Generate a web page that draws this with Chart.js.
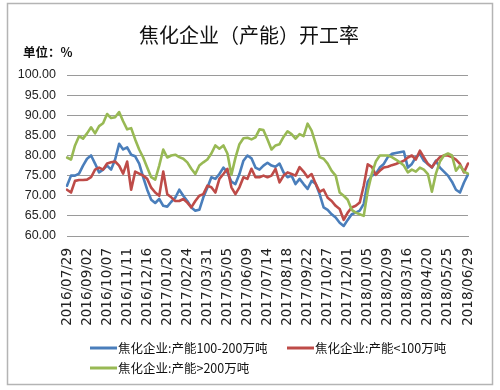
<!DOCTYPE html>
<html>
<head>
<meta charset="utf-8">
<script src="https://cdn.jsdelivr.net/npm/chart.js@4"></script>
<style>
  html, body { margin: 0; padding: 0; background: #fff; }
  #c { display: block; }
</style>
</head>
<body>
<canvas id="c" width="500" height="390"></canvas>
<script>
const titleText = '焦化企业（产能）开工率';
const unitText = '单位：%';

const categories = [
  '2016/07/29','2016/08/05','2016/08/12','2016/08/19','2016/08/26','2016/09/02','2016/09/09','2016/09/16','2016/09/23','2016/09/30',
  '2016/10/07','2016/10/14','2016/10/21','2016/10/28','2016/11/04','2016/11/11','2016/11/18','2016/11/25','2016/12/02','2016/12/09',
  '2016/12/16','2016/12/23','2016/12/30','2017/01/06','2017/01/13','2017/01/20','2017/01/27','2017/02/03','2017/02/10','2017/02/17',
  '2017/02/24','2017/03/03','2017/03/10','2017/03/17','2017/03/24','2017/03/31','2017/04/07','2017/04/14','2017/04/21','2017/04/28',
  '2017/05/05','2017/05/12','2017/05/19','2017/05/26','2017/06/02','2017/06/09','2017/06/16','2017/06/23','2017/06/30','2017/07/07',
  '2017/07/14','2017/07/21','2017/07/28','2017/08/04','2017/08/11','2017/08/18','2017/08/25','2017/09/01','2017/09/08','2017/09/15',
  '2017/09/22','2017/09/29','2017/10/06','2017/10/13','2017/10/20','2017/10/27','2017/11/03','2017/11/10','2017/11/17','2017/11/24',
  '2017/12/01','2017/12/08','2017/12/15','2017/12/22','2017/12/29','2018/01/05','2018/01/12','2018/01/19','2018/01/26','2018/02/02',
  '2018/02/09','2018/02/16','2018/02/23','2018/03/02','2018/03/09','2018/03/16','2018/03/23','2018/03/30','2018/04/06','2018/04/13',
  '2018/04/20','2018/04/27','2018/05/04','2018/05/11','2018/05/18','2018/05/25','2018/06/01','2018/06/08','2018/06/15','2018/06/22',
  '2018/06/29'
];

const tickLabels = [
  '2016/07/29','2016/09/02','2016/10/07','2016/11/11','2016/12/16','2017/01/20','2017/02/24',
  '2017/03/31','2017/05/05','2017/06/09','2017/07/14','2017/08/18','2017/09/22','2017/10/27',
  '2017/12/01','2018/01/05','2018/02/09','2018/03/16','2018/04/20','2018/05/25','2018/06/29'
];

const yTicks = [60, 65, 70, 75, 80, 85, 90, 95, 100];

const seriesNames = ['焦化企业:产能100-200万吨', '焦化企业:产能<100万吨', '焦化企业:产能>200万吨'];

const cap100to200 = [
  72.5,75,75,75.5,77.5,79.2,80,78,75.8,76.5,
  77.5,76.5,79,82.9,81.5,82,80.2,79.8,78,74.6,
  71.5,69,68.2,69.2,67.5,67.3,68.5,69.5,71.5,70,
  68.7,67.1,66.3,66.5,69.6,72,74.6,74.2,75.4,77,
  75.8,73.5,72.9,75.4,78.7,80,79.3,77,76.5,77.5,
  78.2,77.5,77.2,78,75.8,74.6,75,72.9,74.2,72.9,
  71.7,73.7,73,70.4,67.1,66.5,65.4,64.6,63.3,62.5,
  64,65.4,65.8,66.3,68,73.5,75,75.4,77,77.9,
  79.6,80.4,80.6,80.8,81,77,77.9,79.6,80.4,78.7,
  77.9,77,78.7,77,76,75,73.5,71.5,70.8,73.3,
  75.3
];

const capUnder100 = [
  71.5,70.8,73.7,73.9,73.9,74,74.6,76.5,77,76.5,
  78,78.3,78.5,77.5,75.5,78.5,71.5,76,75.5,75,
  74.2,72,70.8,70,76,70.4,69.6,68.7,68.7,69.2,
  68.3,67.1,68.7,70,70.4,72.5,72.1,70.8,74.2,75.4,
  76.7,72.1,70.4,72.1,74.6,74.2,76.7,74.6,74.6,75,
  74.6,75,76.7,73.3,75,75.8,75.4,75,77.1,76,
  74.6,75.4,73,71,71.5,69.5,68.7,67.5,66.7,64,
  65.8,67.1,67.5,68.3,72.5,77.8,77.2,75.2,76.2,77,
  77.2,77.6,77.9,78.3,78.7,79.5,80,79,81.2,79.5,
  77.9,77.1,78.5,79.6,80,80,79.6,79,77.9,75.8,
  78
];

const capOver200 = [
  79.5,79,82.5,84.8,84.2,85.5,87,85.5,87.3,88,
  90.3,89.3,89.5,90.8,88.5,86.5,86.8,84,81.5,79.5,
  77,74.6,74,77.5,81.5,79.5,80,80.2,79.6,79.2,
  78.3,76.7,75.4,77.5,78.3,79,80.5,82.5,81.7,82.5,
  80.5,75.2,79.4,82.8,84.3,84.4,84,84.5,86.5,86.3,
  84,81.5,82.5,82.8,84.6,86,85.3,84.2,85.3,84.8,
  87.9,86.2,83,79.6,79.2,78,76.2,75,70.8,70,
  69,66.5,65.8,65.4,65,71.2,75.4,78.5,80,80,
  80,79.6,79,78.3,77.5,75.8,76.5,76,77,76.5,
  75.4,71,75.5,78.5,80,80.5,80,76.2,77.5,76,
  75.5
];

const colors = ['#4a7ebb', '#be4b48', '#98b954'];

const decor = {
  id: 'decor',
  beforeDraw(chart) {
    const ctx = chart.ctx;
    ctx.save();
    ctx.fillStyle = '#ffffff';
    ctx.fillRect(0, 0, chart.width, chart.height);
    ctx.strokeStyle = '#b4b4b4';
    ctx.lineWidth = 1.5;
    ctx.strokeRect(7.5, 3.5, 485, 381);
    ctx.restore();
  },
  afterDraw(chart) {
    const ctx = chart.ctx;
    ctx.save();
    ctx.fillStyle = '#111';
    ctx.textBaseline = 'middle';
    ctx.textAlign = 'center';
    ctx.font = 'normal 20px "Noto Sans CJK SC"';
    ctx.fillText(titleText, 249, 35);
    ctx.textAlign = 'left';
    ctx.font = 'bold 12.5px "Noto Sans CJK SC"';
    ctx.fillText(unitText, 23, 52);

    const spots = [[90, 348], [287, 348], [90, 368]];
    ctx.font = 'normal 12.5px "Noto Sans CJK SC"';
    chart.data.datasets.forEach((ds, i) => {
      const [x, y] = spots[i];
      ctx.strokeStyle = ds.borderColor;
      ctx.lineWidth = 3;
      ctx.beginPath();
      ctx.moveTo(x, y);
      ctx.lineTo(x + 27, y);
      ctx.stroke();
      ctx.fillStyle = '#111';
      ctx.fillText(ds.label, x + 28, y);
    });
    ctx.restore();
  }
};

new Chart(document.getElementById('c'), {
  type: 'line',
  data: {
    labels: categories,
    datasets: [
      { label: seriesNames[0], data: cap100to200, borderColor: colors[0], backgroundColor: colors[0], order: 2 },
      { label: seriesNames[1], data: capUnder100, borderColor: colors[1], backgroundColor: colors[1], order: 1 },
      { label: seriesNames[2], data: capOver200, borderColor: colors[2], backgroundColor: colors[2], order: 0 }
    ]
  },
  options: {
    responsive: false,
    animation: false,
    devicePixelRatio: 1,
    layout: { padding: { left: 10, right: 32, top: 75, bottom: 54 } },
    elements: {
      line: { borderWidth: 2.6, tension: 0, borderCapStyle: 'round', borderJoinStyle: 'round' },
      point: { radius: 0 }
    },
    plugins: {
      legend: { display: false },
      title: { display: false },
      tooltip: { enabled: false }
    },
    scales: {
      x: {
        offset: false,
        grid: { display: false, drawTicks: false },
        border: { display: true, color: '#9a9a9a', width: 1 },
        ticks: {
          autoSkip: false,
          minRotation: 90,
          maxRotation: 90,
          padding: 12,
          color: '#222',
          font: { family: 'DejaVu Sans', size: 13.5 },
          callback: function (v, i) {
            const lab = this.getLabelForValue(v);
            return tickLabels.includes(lab) ? lab : '';
          }
        },
        afterFit: (s) => { s.height = 100; }
      },
      y: {
        min: yTicks[0],
        max: yTicks[yTicks.length - 1],
        afterBuildTicks: (s) => { s.ticks = yTicks.map(v => ({ value: v })); },
        grid: { color: '#9a9a9a', lineWidth: 1, drawTicks: false },
        border: { display: false },
        ticks: {
          padding: 11,
          color: '#222',
          font: { family: 'Liberation Sans', size: 12.5 },
          callback: (v) => Number(v).toFixed(2)
        },
        afterFit: (s) => { s.width = 57; }
      }
    }
  },
  plugins: [decor]
});
</script>
</body>
</html>
